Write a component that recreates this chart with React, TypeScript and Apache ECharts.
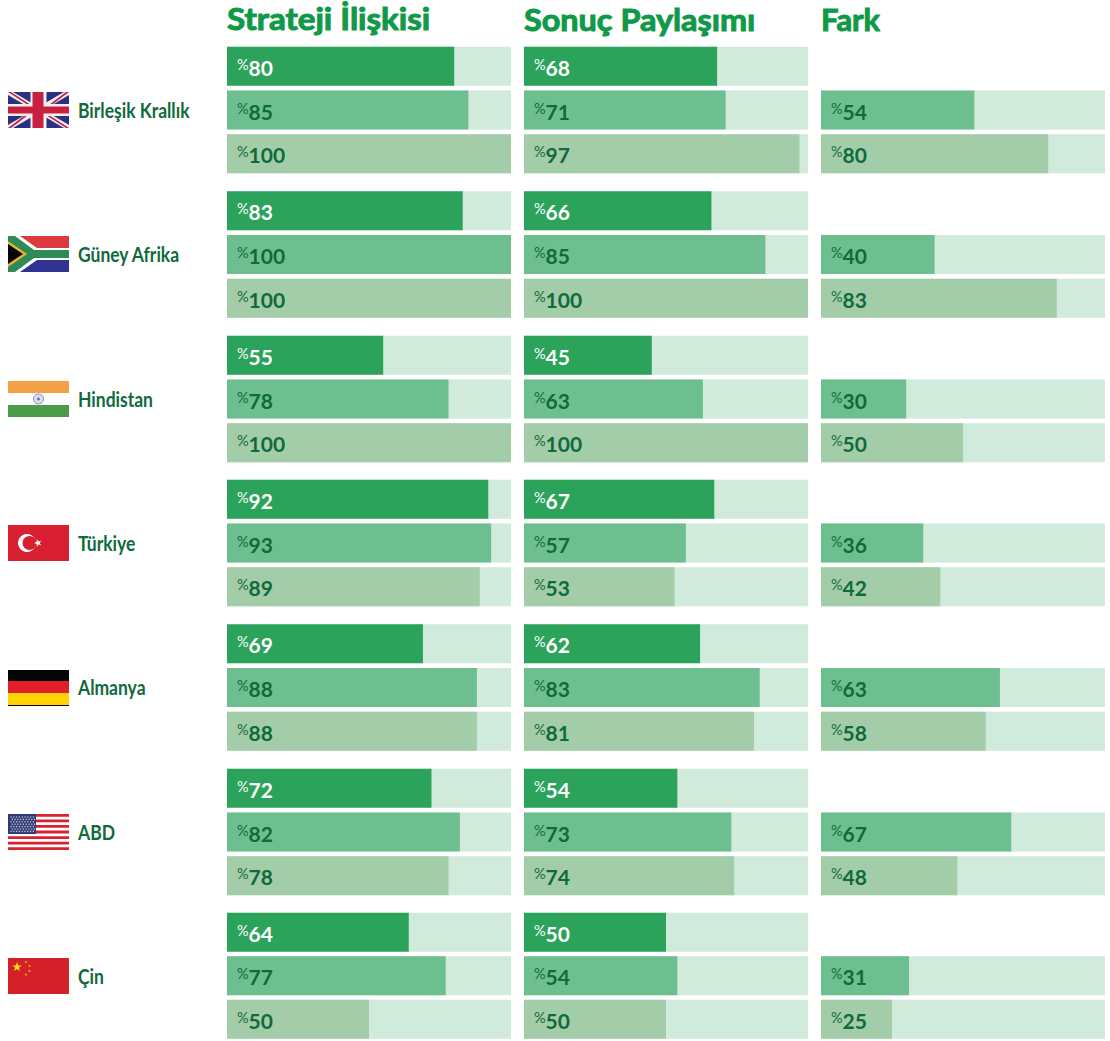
import React, { useEffect, useRef } from "react";
import * as echarts from "echarts";

const countries = ["Birleşik Krallık", "Güney Afrika", "Hindistan", "Türkiye", "Almanya", "ABD", "Çin"];
const columns = ["Strateji İlişkisi", "Sonuç Paylaşımı", "Fark"];
const strateji = [[80, 85, 100], [83, 100, 100], [55, 78, 100], [92, 93, 89], [69, 88, 88], [72, 82, 78], [64, 77, 50]];
const sonuc = [[68, 71, 97], [66, 85, 100], [45, 63, 100], [67, 57, 53], [62, 83, 81], [54, 73, 74], [50, 54, 50]];
const fark = [[null, 54, 80], [null, 40, 83], [null, 30, 50], [null, 36, 42], [null, 63, 58], [null, 67, 48], [null, 31, 25]];
const tables = [strateji, sonuc, fark];
const rowKeys = ["a", "b", "c"];

const colLeft = [227, 524, 821];
const titleScale = [1.105, 1.08, 1.03];
const colWidth = 284;
const groupCenter = [110, 254.5, 399, 543, 687.5, 832, 976];
const band = 43.75;
const rowColors = ["#2CA35B", "#6EBF90", "#A2CDA8"];
const trackColor = "#D0EADC";
const darkText = "#0F6A3C";
const headerColor = "#0E9A48";
const labelFont = "Lato";

const rect = (x: number, y: number, w: number, h: number, fill: string) => ({
  type: "rect", shape: { x, y, width: w, height: h }, style: { fill },
});
const poly = (points: number[][], fill: string) => ({ type: "polygon", shape: { points }, style: { fill } });
const star = (cx: number, cy: number, r: number, fill: string, rot = 0) => {
  const points: number[][] = [];
  for (let i = 0; i < 10; i++) {
    const a = rot - Math.PI / 2 + (i * Math.PI) / 5;
    const q = i % 2 ? r * 0.4 : r;
    points.push([cx + q * Math.cos(a), cy + q * Math.sin(a)]);
  }
  return poly(points, fill);
};

const W = 61, H = 36;
const ukFlag = () => {
  const blue = "#2B3182", red = "#C8203F", white = "#F4F0F2";
  const d = 5, r = 2;
  return [
    rect(0, 0, W, H, blue),
    poly([[0, 0], [d, 0], [W, H - d * 0.6], [W, H], [W - d, H], [0, d * 0.6]], white),
    poly([[W, 0], [W - d, 0], [0, H - d * 0.6], [0, H], [d, H], [W, d * 0.6]], white),
    poly([[0, 0], [r + 1, 0], [W / 2 - 6, H / 2 - 4], [W / 2 - 9, H / 2 - 4]], red),
    poly([[W, H], [W - r - 1, H], [W / 2 + 6, H / 2 + 4], [W / 2 + 9, H / 2 + 4]], red),
    poly([[W, 0], [W - r - 1, 0], [W / 2 + 9, H / 2 - 4], [W / 2 + 12, H / 2 - 4]], red),
    poly([[0, H], [r + 1, H], [W / 2 - 9, H / 2 + 4], [W / 2 - 12, H / 2 + 4]], red),
    rect(W / 2 - 8, 0, 16, H, white),
    rect(0, H / 2 - 6, W, 12, white),
    rect(W / 2 - 6, 0, 11, H, red),
    rect(0, H / 2 - 3.5, W, 7, red),
  ];
};
const zaFlag = () => [
  rect(0, 0, W, H / 2, "#DC3A3F"),
  rect(0, H / 2, W, H / 2, "#2F3291"),
  poly([[0, 0], [12, 0], [29, 12], [W, 12], [W, 24], [29, 24], [12, H], [0, H]], "#FFFFFF"),
  poly([[0, 0], [7, 0], [26, 14], [W, 14], [W, 22], [26, 22], [7, H], [0, H]], "#2E8B57"),
  poly([[0, 5], [19, 18], [0, 31]], "#F0B323"),
  poly([[0, 8], [15, 18], [0, 28]], "#050505"),
];
const inFlag = () => [
  rect(0, 0, W, 12, "#F3A047"),
  rect(0, 12, W, 12, "#FFFFFF"),
  rect(0, 24, W, 12, "#4A9C48"),
  { type: "circle", shape: { cx: 30.5, cy: 18, r: 5 }, style: { fill: "#DCDCEC", stroke: "#8A8CC0", lineWidth: 1 } },
  { type: "circle", shape: { cx: 30.5, cy: 18, r: 1.5 }, style: { fill: "#6F72B0" } },
];
const trFlag = () => [
  rect(0, 0, W, H, "#D91F32"),
  { type: "circle", shape: { cx: 19, cy: 18, r: 9 }, style: { fill: "#FFFFFF" } },
  { type: "circle", shape: { cx: 21.5, cy: 18, r: 7 }, style: { fill: "#D91F32" } },
  star(30, 18, 4, "#FFFFFF", -Math.PI / 2),
];
const deFlag = () => [
  rect(0, 0, W, 11, "#050505"),
  rect(0, 11, W, 12, "#E21F26"),
  rect(0, 23, W, 12, "#FFD400"),
  rect(0, 35, W, 1, "#050505"),
];
const usFlag = () => {
  const out: any[] = [rect(0, 0, W, H, "#FFFFFF")];
  for (let i = 0; i < 7; i++) out.push(rect(0, (i * H) / 6.5, W, H / 13, "#D9212F"));
  out.push(rect(0, 0, 28, 20, "#2F3A72"));
  for (let r = 0; r < 7; r++)
    for (let c = 0; c < 9; c++)
      out.push({ type: "circle", shape: { cx: 3 + c * 2.8 + (r % 2) * 1.2, cy: 3 + r * 2.4, r: 0.7 }, style: { fill: "#C9CCE0" } });
  return out;
};
const cnFlag = () => [
  rect(0, 0, W, H, "#D32029"),
  star(9, 9, 5, "#FFE11A"),
  star(18, 4, 1.6, "#F6B21A"),
  star(21.5, 8, 1.6, "#F6B21A"),
  star(21.5, 13, 1.6, "#F6B21A"),
  star(18, 16.5, 1.6, "#F6B21A"),
];
const flagBuilders = [ukFlag, zaFlag, inFlag, trFlag, deFlag, usFlag, cnFlag];
const flagTop = [92, 236, 381, 525, 670, 814, 958];

function buildOption() {
  const grid: any[] = [], xAxis: any[] = [], yAxis: any[] = [], series: any[] = [];
  tables.forEach((table, c) => {
    table.forEach((values, g) => {
      const idx = grid.length;
      grid.push({
        left: colLeft[c], width: colWidth,
        top: groupCenter[g] - band * 1.5, height: band * 3,
        containLabel: false,
      });
      xAxis.push({ gridIndex: idx, type: "value", min: 0, max: 100, show: false });
      yAxis.push({ gridIndex: idx, type: "category", inverse: true, data: rowKeys, show: false });
      series.push({
        type: "bar", xAxisIndex: idx, yAxisIndex: idx, barWidth: 39, barGap: "-100%", silent: true,
        data: values.map((v) => (v === null ? null : 100)),
        itemStyle: { color: trackColor },
      });
      series.push({
        type: "bar", xAxisIndex: idx, yAxisIndex: idx, barWidth: 39, barGap: "-100%",
        data: values.map((v, r) => ({
          value: v,
          itemStyle: { color: rowColors[r] },
          label: {
            show: v !== null,
            position: "insideLeft",
            distance: 10,
            offset: [0, 1],
            formatter: `{p${r === 0 ? "w" : "d"}|%}{n${r === 0 ? "w" : "d"}|${v}}`,
            rich: {
              pw: { fontFamily: labelFont, fontSize: 14.5, color: "#FFFFFF", padding: [0, 0, 6, 0] },
              pd: { fontFamily: labelFont, fontSize: 14.5, color: darkText, padding: [0, 0, 6, 0] },
              nw: { fontFamily: labelFont, fontSize: 21, fontWeight: "bold", color: "#FFFFFF" },
              nd: { fontFamily: labelFont, fontSize: 21, fontWeight: "bold", color: darkText },
            },
          },
        })),
      });
    });
  });

  const graphic: any[] = [];
  columns.forEach((t, c) => {
    graphic.push({
      type: "text", x: colLeft[c], y: 19, scaleX: titleScale[c],
      style: { text: t, fontFamily: "Lato", fontWeight: "bold", fontSize: 30, fill: headerColor, stroke: headerColor, lineWidth: 1, align: "left", verticalAlign: "middle" },
    });
  });
  countries.forEach((name, g) => {
    graphic.push({ type: "group", x: 8, y: flagTop[g], children: flagBuilders[g]() });
    graphic.push({
      type: "text", x: 78, y: groupCenter[g], scaleX: 0.875,
      style: { text: name, fontFamily: labelFont, fontWeight: "bold", fontSize: 20, fill: darkText, align: "left", verticalAlign: "middle" },
    });
  });

  return { animation: false, backgroundColor: "#FFFFFF", grid, xAxis, yAxis, series, graphic };
}

export default function App() {
  const ref = useRef<HTMLDivElement>(null);
  useEffect(() => {
    const chart = echarts.init(ref.current!, undefined, { renderer: "svg" });
    chart.setOption(buildOption() as any);
    return () => chart.dispose();
  }, []);
  return <div ref={ref} style={{ position: "absolute", left: 0, top: 0, width: 1110, height: 1041 }} />;
}
